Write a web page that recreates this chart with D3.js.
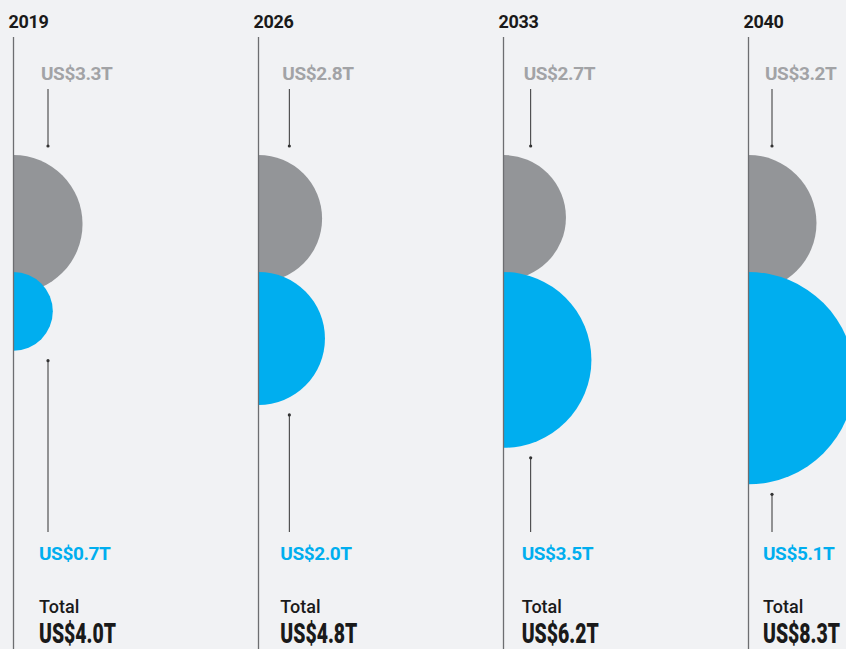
<!DOCTYPE html>
<html>
<head>
<meta charset="utf-8">
<script src="https://cdn.jsdelivr.net/npm/d3@7"></script>
<style>
  html, body { margin: 0; padding: 0; background: #f1f2f4; }
  svg { display: block; }
</style>
</head>
<body>
<svg id="chart" width="846" height="649"></svg>
<script>
// ---- data ----
const years = ["2019", "2026", "2033", "2040"];
const grayValues = [3.3, 2.8, 2.7, 3.2];   // US$ trillions (grey series)
const blueValues = [0.7, 2.0, 3.5, 5.1];   // US$ trillions (blue series)
const totals = [4.0, 4.8, 6.2, 8.3];       // US$ trillions

const W = 846, H = 649;
const svg = d3.select("#chart");
const fmt = v => "US$" + d3.format(".1f")(v) + "T";

const colors = { gray: "#939598", blue: "#00aeef", line: "#6d6e71", text: "#1a1a1a", grayText: "#a2a3a6" };

// panel positions
const xLine = d3.scalePoint().domain(years).range([13.5, 748.5]);
const xLabel = d3.scalePoint().domain(years).range([39, 763]);

// radius scales (sqrt => area proportional)
const rGray = d3.scaleSqrt().domain([0, 1]).range([0, 38]);
const rBlue = d3.scaleSqrt().domain([0, 1]).range([0, 47]);

const grayTop = 155, blueTop = 272;
const arc = d3.arc().innerRadius(0).startAngle(0).endAngle(Math.PI);

const rows = years.map((y, i) => ({ year: y, gray: grayValues[i], blue: blueValues[i], total: totals[i] }));

const g = svg.selectAll("g.panel").data(rows).join("g").attr("class", "panel");

// grey semicircles
g.append("path")
  .attr("fill", colors.gray)
  .attr("transform", d => `translate(${xLine(d.year)},${grayTop + rGray(d.gray)})`)
  .attr("d", d => arc({ outerRadius: rGray(d.gray) }));

// blue semicircles
g.append("path")
  .attr("fill", colors.blue)
  .attr("transform", d => `translate(${xLine(d.year)},${blueTop + rBlue(d.blue)})`)
  .attr("d", d => arc({ outerRadius: rBlue(d.blue) }));

// vertical lines
g.append("line")
  .attr("x1", d => xLine(d.year)).attr("x2", d => xLine(d.year))
  .attr("y1", 37).attr("y2", H)
  .attr("stroke", colors.line).attr("stroke-width", 1.3);

// year labels
g.append("text")
  .attr("x", d => xLine(d.year) - 5)
  .attr("y", 27.5)
  .attr("font-family", "Roboto, 'Liberation Sans', sans-serif")
  .attr("font-weight", 700)
  .attr("font-size", 18)
  .attr("letter-spacing", -0.3)
  .attr("fill", colors.text)
  .text(d => d.year);

// grey value labels
g.append("text")
  .attr("x", d => xLabel(d.year) + 2)
  .attr("y", 80)
  .attr("font-family", "Roboto, 'Liberation Sans', sans-serif")
  .attr("font-weight", 700)
  .attr("font-size", 19)
  .attr("letter-spacing", -0.4)
  .attr("fill", colors.grayText)
  .text(d => fmt(d.gray));

// grey pointer
const ax = d => xLabel(d.year) + 9;
g.append("line")
  .attr("x1", ax).attr("x2", ax)
  .attr("y1", 89).attr("y2", 146)
  .attr("stroke", "#333").attr("stroke-width", 1);
g.append("circle")
  .attr("cx", ax).attr("cy", 146).attr("r", 1.6).attr("fill", "#333");

// blue pointer
g.append("line")
  .attr("x1", ax).attr("x2", ax)
  .attr("y1", d => blueTop + 2 * rBlue(d.blue) + 10).attr("y2", 532)
  .attr("stroke", "#333").attr("stroke-width", 1);
g.append("circle")
  .attr("cx", ax).attr("cy", d => blueTop + 2 * rBlue(d.blue) + 10).attr("r", 1.6).attr("fill", "#333");

// blue value labels
g.append("text")
  .attr("x", d => xLabel(d.year))
  .attr("y", 560)
  .attr("font-family", "Roboto, 'Liberation Sans', sans-serif")
  .attr("font-weight", 700)
  .attr("font-size", 19)
  .attr("letter-spacing", -0.4)
  .attr("fill", colors.blue)
  .text(d => fmt(d.blue));

// "Total"
g.append("text")
  .attr("x", d => xLabel(d.year))
  .attr("y", 613)
  .attr("font-family", "Roboto, 'Liberation Sans', sans-serif")
  .attr("font-weight", 500)
  .attr("font-size", 18)
  .attr("fill", colors.text)
  .text("Total");

// total values (condensed look via vertical stretch)
g.append("text")
  .attr("transform", d => `translate(${xLabel(d.year)},643) scale(1,1.4)`)
  .attr("font-family", "Roboto, 'Liberation Sans', sans-serif")
  .attr("font-weight", 900)
  .attr("font-size", 20)
  .attr("textLength", 77)
  .attr("lengthAdjust", "spacingAndGlyphs")
  .attr("fill", colors.text)
  .text(d => fmt(d.total));
</script>
</body>
</html>
